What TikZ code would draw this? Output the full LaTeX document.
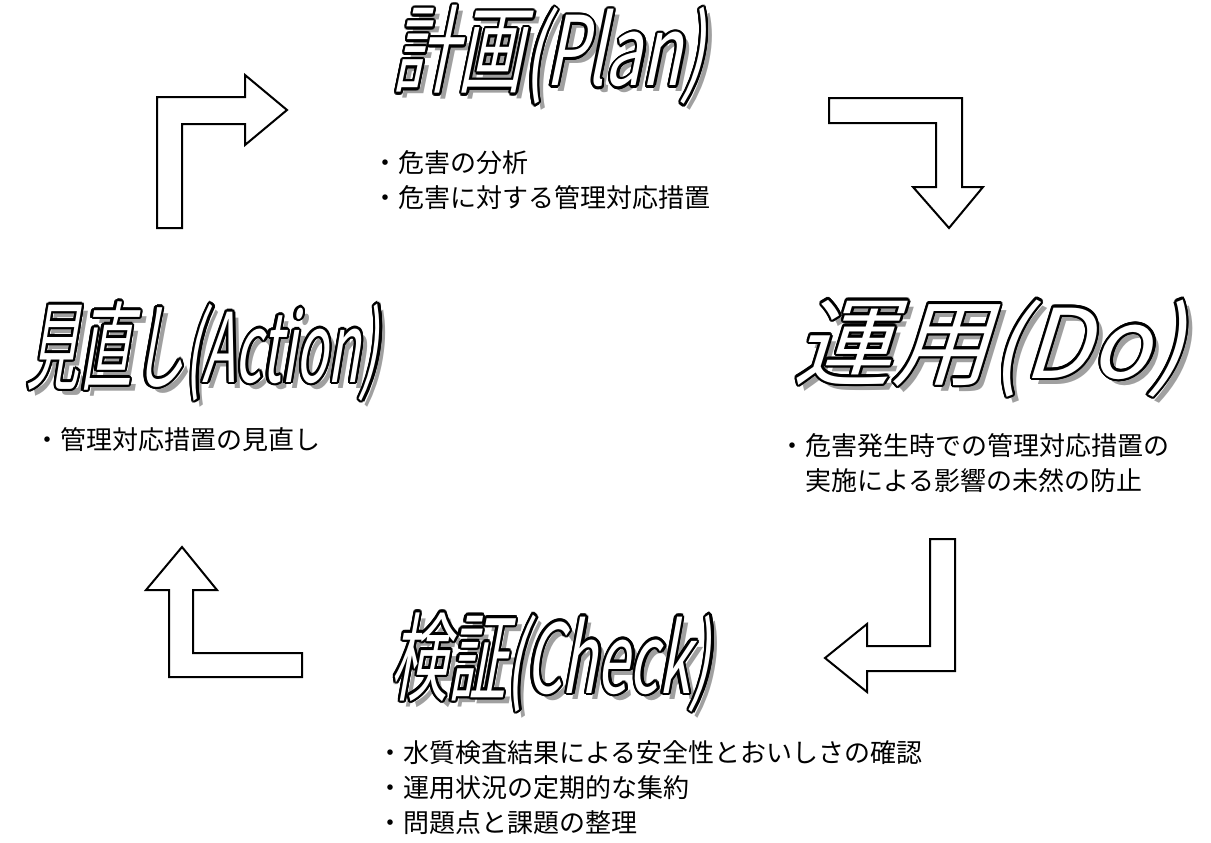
\documentclass[tikz,border=0pt]{standalone}
\usepackage{fontspec}
\usepackage{graphicx}
\setmainfont{Noto Sans CJK JP}
\newfontfamily\wafont{Noto Sans CJK JP}[FakeSlant=0.3]
\definecolor{shgray}{RGB}{160,160,160}
\newcommand\watext[2]{%
  \scalebox{#1}[1]{\wafont\fontsize{72pt}{80pt}\selectfont
    \rlap{\hspace*{\dimexpr 4.5pt*100/\numexpr\fpeval{round(#1*100)}\relax\relax}\raisebox{-4.5pt}{\textcolor{shgray}{#2}}}%
    \foreach \a in {0,22.5,...,337.5}{%
      \pgfmathsetlengthmacro\dx{1.8pt*cos(\a)/#1}%
      \pgfmathsetlengthmacro\dy{1.8pt*sin(\a)}%
      \rlap{\hspace*{\dx}\raisebox{\dy}{\textcolor{black}{#2}}}}%
    \textcolor{white}{#2}}}
\tikzset{
  arrowshape/.style={draw=black, fill=white, line width=1.5pt, line join=miter},
  title/.style={inner sep=0pt, anchor=center},
  body/.style={anchor=west, align=left, inner sep=0pt,
    font=\fontsize{19.5pt}{26.3pt}\selectfont},
}
\begin{document}
\begin{tikzpicture}[x=0.75pt, y=-0.75pt]
\useasboundingbox (0,0) rectangle (1211,843);
% arrows
\draw[arrowshape] (157,228) -- (157,97) -- (245,97) -- (245,75) -- (287,110) -- (245,145) -- (245,124) -- (182,124) -- (182,228) -- cycle;
\draw[arrowshape] (829,98) -- (962,98) -- (962,187) -- (983,187) -- (949,228) -- (913,187) -- (936,187) -- (936,123) -- (829,123) -- cycle;
\draw[arrowshape] (930,539) -- (955,539) -- (955,671) -- (867,671) -- (867,692) -- (825,658) -- (867,624) -- (867,646) -- (930,646) -- cycle;
\draw[arrowshape] (182,547) -- (217,590) -- (193,590) -- (193,653) -- (302,653) -- (302,677) -- (169,677) -- (169,590) -- (146,590) -- cycle;
% titles
\node[title] (plan) at (548,57) {\watext{0.68}{計画(Plan)}};
\node[title] (action) at (202,353) {\watext{0.55}{見直し(Action)}};
\node[title] (do) at (988,350) {\watext{1.02}{運用(Do)}};
\node[title] (check) at (550,664) {\watext{0.6}{検証(Check)}};
% texts
\node[body] (plantext) at (372,180) {・危害の分析\\・危害に対する管理対応措置};
\node[body] (dotext) at (779,463) {・危害発生時での管理対応措置の\\\hspace*{1em}実施による影響の未然の防止};
\node[body] (actiontext) at (34,440) {・管理対応措置の見直し};
\node[body] (checktext) at (377,788) {・水質検査結果による安全性とおいしさの確認\\・運用状況の定期的な集約\\・問題点と課題の整理};
\end{tikzpicture}
\end{document}
